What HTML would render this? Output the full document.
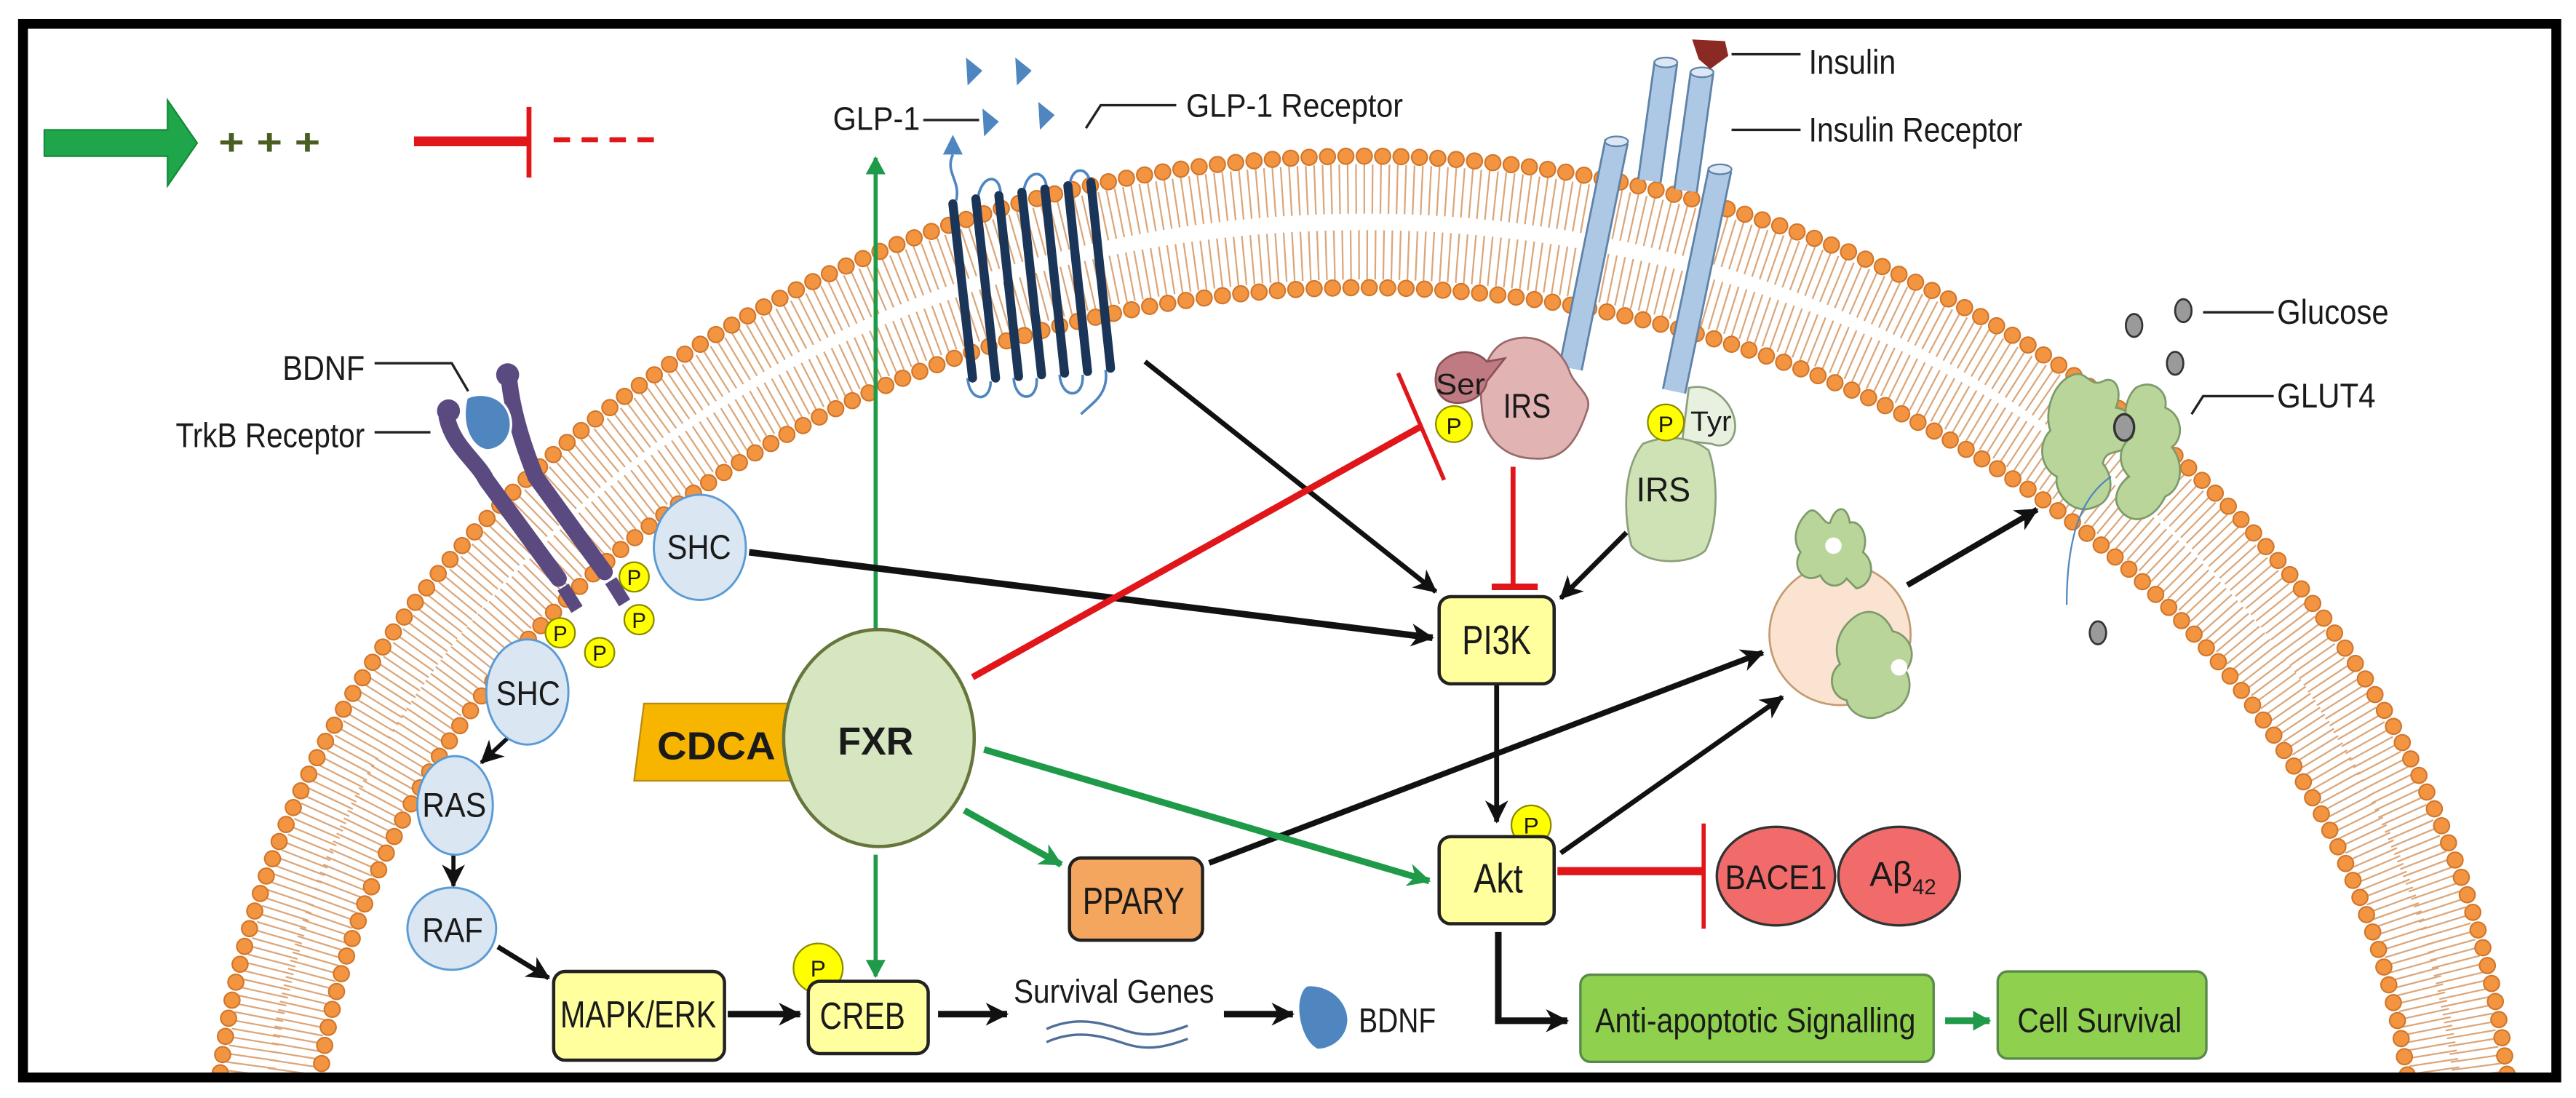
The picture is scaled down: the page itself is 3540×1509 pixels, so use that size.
<!DOCTYPE html>
<html><head><meta charset="utf-8"><style>
html,body{margin:0;padding:0;background:#fff;width:3540px;height:1509px;overflow:hidden;}
svg{display:block;}
text{font-family:"Liberation Sans Narrow","Liberation Sans",sans-serif;fill:#1a1a1a;}
</style></head><body>
<svg width="3540" height="1509" viewBox="0 0 1568 668" preserveAspectRatio="none" xmlns="http://www.w3.org/2000/svg">
<defs>
<clipPath id="fr"><rect x="17" y="17" width="1536" height="636"/></clipPath>
<marker id="ab" markerUnits="userSpaceOnUse" markerWidth="16" markerHeight="16" refX="13" refY="8" orient="auto"><path d="M0,1 L14,8 L0,15 L4,8 Z" fill="#111"/></marker>
<marker id="ag" markerUnits="userSpaceOnUse" markerWidth="16" markerHeight="16" refX="13" refY="8" orient="auto"><path d="M0,1 L14,8 L0,15 L4,8 Z" fill="#1e9a48"/></marker>
<marker id="ags" markerUnits="userSpaceOnUse" markerWidth="12" markerHeight="12" refX="10" refY="6" orient="auto"><path d="M0,0 L11,6 L0,12 Z" fill="#1e9a48"/></marker>
</defs>
<rect width="1568" height="668" fill="#fff"/>
<g clip-path="url(#fr)">
<!-- membrane tails -->
<ellipse cx="830" cy="720" rx="682" ry="605" fill="none" stroke="#dba67a" stroke-width="30" stroke-dasharray="1 4"/>
<ellipse cx="830" cy="720" rx="657" ry="565" fill="none" stroke="#dba67a" stroke-width="30" stroke-dasharray="1 4"/>
<!-- heads -->
<ellipse cx="830" cy="720" rx="700" ry="625" fill="none" stroke="#d0762c" stroke-width="10.5" stroke-dasharray="0 11.2" stroke-linecap="round"/>
<ellipse cx="830" cy="720" rx="700" ry="625" fill="none" stroke="#f39440" stroke-width="8.6" stroke-dasharray="0 11.2" stroke-linecap="round"/>
<ellipse cx="830" cy="720" rx="640" ry="545" fill="none" stroke="#d0762c" stroke-width="10.5" stroke-dasharray="0 11.2" stroke-linecap="round"/>
<ellipse cx="830" cy="720" rx="640" ry="545" fill="none" stroke="#f39440" stroke-width="8.6" stroke-dasharray="0 11.2" stroke-linecap="round"/>
</g>
<!-- frame -->
<rect x="14" y="14.5" width="1542" height="641" fill="none" stroke="#000" stroke-width="6"/>

<!-- legend -->
<path d="M27,79 L102,79 L102,61 L120,87 L102,113 L102,95 L27,95 Z" fill="#1fa64a" stroke="#148a38" stroke-width="1"/>
<text x="133" y="94" font-size="22" font-weight="bold" style="fill:#4a5d23" textLength="62" lengthAdjust="spacingAndGlyphs">+ + +</text>
<line x1="252" y1="86" x2="322" y2="86" stroke="#e0161b" stroke-width="6"/>
<line x1="322" y1="65" x2="322" y2="108" stroke="#e0161b" stroke-width="3"/>
<line x1="337" y1="85" x2="400" y2="85" stroke="#e0161b" stroke-width="3" stroke-dasharray="10 7"/>

<!-- GLP-1 -->
<text x="507" y="79" font-size="20" textLength="53" lengthAdjust="spacingAndGlyphs">GLP-1</text>
<line x1="562" y1="73" x2="596" y2="73" stroke="#222" stroke-width="1.5"/>
<g fill="#4f86c0">
<path d="M588,35 L598,43 L589,52 Z"/><path d="M618,35 L628,43 L619,52 Z"/>
<path d="M632,62 L642,70 L633,79 Z"/><path d="M598,66 L608,74 L599,83 Z"/>
<path d="M574,94 L580,82 L586,94 Z"/>
</g>
<text x="722" y="71" font-size="20" textLength="132" lengthAdjust="spacingAndGlyphs">GLP-1 Receptor</text>
<polyline points="716,64 670,64 661,78" fill="none" stroke="#222" stroke-width="1.5"/>
<g fill="none" stroke="#4f86c0" stroke-width="1.6">
<path d="M580,94 C575,105 585,110 582,122"/>
<path d="M595,122 C597,105 610,105 609,120"/>
<path d="M623,118 C624,102 638,102 637,117"/>
<path d="M651,115 C651,100 664,100 664,115"/>
<path d="M589,230 C590,245 603,245 603,232"/>
<path d="M617,230 C618,245 632,245 631,230"/>
<path d="M645,228 C646,243 660,243 659,228"/>
<path d="M673,225 C675,240 665,245 658,252"/>
</g>
<g stroke="#1b3558" stroke-width="5.5" stroke-linecap="round">
<line x1="580" y1="124" x2="592" y2="230"/>
<line x1="594" y1="121" x2="606" y2="230"/>
<line x1="608" y1="119" x2="620" y2="229"/>
<line x1="622" y1="117" x2="634" y2="228"/>
<line x1="636" y1="115" x2="648" y2="227"/>
<line x1="650" y1="113" x2="662" y2="226"/>
<line x1="664" y1="111" x2="676" y2="224"/>
</g>

<!-- Insulin receptor -->
<g stroke-linecap="butt">
<line x1="1014" y1="38" x2="1004" y2="110" stroke="#5f82a8" stroke-width="15"/>
<line x1="1014" y1="38" x2="1004" y2="110" stroke="#adc8e4" stroke-width="12.5"/>
<line x1="1036" y1="44" x2="1026" y2="116" stroke="#5f82a8" stroke-width="15"/>
<line x1="1036" y1="44" x2="1026" y2="116" stroke="#adc8e4" stroke-width="12.5"/>
<line x1="984" y1="86" x2="956" y2="224" stroke="#5f82a8" stroke-width="15"/>
<line x1="984" y1="86" x2="956" y2="224" stroke="#adc8e4" stroke-width="12.5"/>
<line x1="1047" y1="103" x2="1019" y2="238" stroke="#5f82a8" stroke-width="15"/>
<line x1="1047" y1="103" x2="1019" y2="238" stroke="#adc8e4" stroke-width="12.5"/>
</g>
<g fill="#dbe7f4" stroke="#5f82a8" stroke-width="1">
<ellipse cx="1014" cy="38" rx="7" ry="3"/><ellipse cx="1036" cy="44" rx="7" ry="3"/>
<ellipse cx="984" cy="86" rx="7" ry="3"/><ellipse cx="1047" cy="103" rx="7" ry="3"/>
</g>
<path d="M1030,24 L1050,25 L1052,34 L1041,42 L1034,36 Z" fill="#8b2a22"/>
<line x1="1054" y1="33" x2="1096" y2="33" stroke="#222" stroke-width="1.5"/>
<text x="1101" y="45" font-size="21" textLength="53" lengthAdjust="spacingAndGlyphs">Insulin</text>
<line x1="1054" y1="79" x2="1096" y2="79" stroke="#222" stroke-width="1.5"/>
<text x="1101" y="86" font-size="21" textLength="130" lengthAdjust="spacingAndGlyphs">Insulin Receptor</text>

<!-- IRS pink -->
<path d="M916,208 C935,200 950,212 955,225 C958,235 970,240 966,250 C960,268 952,280 935,279 C915,279 903,266 902,248 C900,232 904,214 916,208 Z" fill="#e2b3b3" stroke="#9a6b6b" stroke-width="1.2"/>
<path d="M876,222 C884,212 898,212 905,220 L916,218 L905,232 C904,240 895,246 885,245 C875,244 871,232 876,222 Z" fill="#c07b82" stroke="#8a5058" stroke-width="1.2"/>
<text x="874" y="240" font-size="18" textLength="30" lengthAdjust="spacingAndGlyphs">Ser</text>
<text x="915" y="254" font-size="21" textLength="29" lengthAdjust="spacingAndGlyphs">IRS</text>
<circle cx="885" cy="258" r="11" fill="#ffff00" stroke="#8a8a00" stroke-width="1"/>
<text x="885" y="264" font-size="14" text-anchor="middle">P</text>
<!-- IRS green -->
<path d="M1028,236 C1044,232 1058,248 1056,262 C1054,272 1046,272 1042,270 L1024,268 Z" fill="#e8f0e0" stroke="#8aa07a" stroke-width="1.2"/>
<path d="M1000,270 C1015,264 1030,266 1040,274 C1046,290 1046,320 1038,335 C1028,344 1002,344 993,332 C988,312 988,285 1000,270 Z" fill="#cfe2b6" stroke="#8aa07a" stroke-width="1.2"/>
<circle cx="1014" cy="257" r="11" fill="#ffff00" stroke="#8a8a00" stroke-width="1"/>
<text x="1014" y="263" font-size="14" text-anchor="middle">P</text>
<text x="1029" y="262" font-size="17" textLength="25" lengthAdjust="spacingAndGlyphs">Tyr</text>
<text x="996" y="305" font-size="21" textLength="33" lengthAdjust="spacingAndGlyphs">IRS</text>

<!-- Glucose / GLUT4 -->
<g fill="#9a9a9a" stroke="#333" stroke-width="1.2">
<ellipse cx="1299" cy="198" rx="5" ry="7"/><ellipse cx="1329" cy="189" rx="5" ry="7"/>
<ellipse cx="1324" cy="221" rx="5" ry="7"/><ellipse cx="1277" cy="385" rx="5" ry="7"/>
</g>
<line x1="1341" y1="190" x2="1384" y2="190" stroke="#222" stroke-width="1.5"/>
<text x="1386" y="197" font-size="21" textLength="68" lengthAdjust="spacingAndGlyphs">Glucose</text>
<polyline points="1384,241 1341,241 1334,252" fill="none" stroke="#222" stroke-width="1.5"/>
<text x="1386" y="248" font-size="21" textLength="60" lengthAdjust="spacingAndGlyphs">GLUT4</text>
<path d="M1262,228 C1270,225 1272,236 1280,232 C1288,228 1292,238 1288,248 C1300,250 1304,262 1296,270 C1290,278 1282,272 1280,282 C1288,292 1285,305 1276,308 C1262,315 1250,300 1252,290 C1242,285 1240,270 1248,262 C1244,250 1250,232 1262,228 Z" fill="#b9d59a" stroke="#7d9a6a" stroke-width="1.2"/>
<path d="M1300,236 C1310,230 1320,238 1318,248 C1328,252 1330,266 1322,272 C1330,282 1328,298 1318,302 C1312,315 1300,320 1292,312 C1284,304 1290,294 1296,290 C1288,282 1290,270 1298,266 C1292,258 1292,244 1300,236 Z" fill="#b9d59a" stroke="#7d9a6a" stroke-width="1.2"/>
<ellipse cx="1293" cy="260" rx="6" ry="8" fill="#9a9a9a" stroke="#333" stroke-width="1.5"/>
<path d="M1285,290 C1270,300 1258,320 1258,368" fill="none" stroke="#4f86c0" stroke-width="1"/>

<!-- vesicle -->
<circle cx="1120" cy="386" r="43" fill="#fbe3d2" stroke="#c49a70" stroke-width="1.2"/>
<path d="M1100,312 C1106,306 1110,320 1114,318 C1117,308 1124,306 1126,318 C1132,316 1138,326 1134,336 C1142,342 1140,356 1130,358 L1124,352 C1120,358 1112,358 1108,350 C1098,356 1090,345 1096,336 C1090,328 1094,318 1100,312 Z" fill="#b9d59a" stroke="#7d9a6a" stroke-width="1.2"/>
<circle cx="1116" cy="332" r="5" fill="#fff"/>
<path d="M1128,376 C1138,368 1148,374 1152,384 C1162,386 1168,398 1160,408 C1166,418 1160,432 1148,434 C1140,440 1126,436 1124,426 C1114,424 1112,410 1120,404 C1116,396 1118,384 1128,376 Z" fill="#b9d59a" stroke="#7d9a6a" stroke-width="1.2"/>
<circle cx="1156" cy="406" r="5" fill="#fff"/>

<!-- TrkB / BDNF -->
<g stroke="#5a4a80" stroke-width="10" stroke-linecap="round" fill="none">
<path d="M272,254 C276,272 290,280 296,292 L340,352"/>
<path d="M310,232 C312,250 318,270 326,290 L368,348"/>
</g>
<g fill="#5a4a80">
<circle cx="273" cy="250" r="7"/><circle cx="309" cy="228" r="7"/>
<rect x="343" y="356" width="8" height="16" transform="rotate(-32 347 364)"/>
<rect x="372" y="352" width="8" height="16" transform="rotate(-32 376 360)"/>
</g>
<path d="M284,242 C292,238 306,240 310,252 C314,264 306,274 296,274 C286,272 280,258 284,242 Z" fill="#4f86c0" stroke="#fff" stroke-width="1.5"/>
<text x="172" y="231" font-size="21" textLength="50" lengthAdjust="spacingAndGlyphs">BDNF</text>
<polyline points="228,221 275,221 285,238" fill="none" stroke="#222" stroke-width="1.5"/>
<text x="107" y="272" font-size="21" textLength="115" lengthAdjust="spacingAndGlyphs">TrkB Receptor</text>
<line x1="228" y1="263" x2="262" y2="263" stroke="#222" stroke-width="1.5"/>

<!-- connectors -->
<line x1="533" y1="386" x2="533" y2="96" stroke="#1e9a48" stroke-width="2.5" marker-end="url(#ags)"/>
<line x1="456" y1="336" x2="872" y2="388" stroke="#111" stroke-width="4" marker-end="url(#ab)"/>
<line x1="697" y1="220" x2="874" y2="360" stroke="#111" stroke-width="3" marker-end="url(#ab)"/>
<line x1="990" y1="324" x2="950" y2="364" stroke="#111" stroke-width="3" marker-end="url(#ab)"/>
<line x1="921" y1="284" x2="921" y2="356" stroke="#e0161b" stroke-width="3"/>
<line x1="908" y1="357" x2="936" y2="357" stroke="#e0161b" stroke-width="4"/>
<line x1="592" y1="412" x2="864" y2="260" stroke="#e0161b" stroke-width="4"/>
<line x1="851" y1="227" x2="879" y2="292" stroke="#e0161b" stroke-width="2.5"/>
<line x1="911" y1="417" x2="911" y2="500" stroke="#111" stroke-width="3" marker-end="url(#ab)"/>
<line x1="736" y1="525" x2="1073" y2="397" stroke="#111" stroke-width="3.5" marker-end="url(#ab)"/>
<line x1="950" y1="519" x2="1085" y2="424" stroke="#111" stroke-width="3" marker-end="url(#ab)"/>
<line x1="1161" y1="356" x2="1240" y2="310" stroke="#111" stroke-width="3.5" marker-end="url(#ab)"/>
<line x1="599" y1="456" x2="870" y2="536" stroke="#1e9a48" stroke-width="4" marker-end="url(#ag)"/>
<line x1="587" y1="493" x2="646" y2="526" stroke="#1e9a48" stroke-width="4" marker-end="url(#ag)"/>
<line x1="533" y1="520" x2="533" y2="594" stroke="#1e9a48" stroke-width="2.5" marker-end="url(#ags)"/>
<line x1="948" y1="530" x2="1037" y2="530" stroke="#e0161b" stroke-width="5"/>
<line x1="1037" y1="501" x2="1037" y2="565" stroke="#e0161b" stroke-width="2.5"/>
<polyline points="912,567 912,621 954,621" fill="none" stroke="#111" stroke-width="4" marker-end="url(#ab)"/>
<line x1="1184" y1="621" x2="1211" y2="621" stroke="#1e9a48" stroke-width="4" marker-end="url(#ags)"/>
<line x1="443" y1="617" x2="487" y2="617" stroke="#111" stroke-width="4" marker-end="url(#ab)"/>
<line x1="571" y1="617" x2="613" y2="617" stroke="#111" stroke-width="4" marker-end="url(#ab)"/>
<line x1="745" y1="617" x2="787" y2="617" stroke="#111" stroke-width="4" marker-end="url(#ab)"/>
<line x1="309" y1="449" x2="293" y2="464" stroke="#111" stroke-width="2.5" marker-end="url(#ab)"/>
<line x1="276" y1="520" x2="276" y2="539" stroke="#111" stroke-width="2.5" marker-end="url(#ab)"/>
<line x1="303" y1="576" x2="334" y2="595" stroke="#111" stroke-width="3" marker-end="url(#ab)"/>

<!-- left signalling -->
<g fill="#dae6f2" stroke="#5b9bd5" stroke-width="1.3">
<ellipse cx="426" cy="333" rx="28" ry="32"/>
<ellipse cx="321" cy="421" rx="25" ry="32"/>
<ellipse cx="277" cy="490" rx="23" ry="30"/>
<ellipse cx="275" cy="565" rx="27" ry="25"/>
</g>
<text x="406" y="340" font-size="21" textLength="39" lengthAdjust="spacingAndGlyphs">SHC</text>
<text x="302" y="429" font-size="21" textLength="39" lengthAdjust="spacingAndGlyphs">SHC</text>
<text x="257" y="497" font-size="21" textLength="39" lengthAdjust="spacingAndGlyphs">RAS</text>
<text x="257" y="573" font-size="21" textLength="37" lengthAdjust="spacingAndGlyphs">RAF</text>
<g fill="#ffff00" stroke="#8a8a00" stroke-width="1">
<circle cx="386" cy="351" r="9"/><circle cx="389" cy="377" r="9"/><circle cx="365" cy="397" r="9"/><circle cx="341" cy="385" r="9"/>
</g>
<g font-size="13" text-anchor="middle">
<text x="386" y="356">P</text><text x="389" y="382">P</text><text x="365" y="402">P</text><text x="341" y="390">P</text>
</g>

<!-- FXR / CDCA -->
<path d="M392,428 L484,428 L484,475 L386,475 Z" fill="#f7b500" stroke="#b88a10" stroke-width="1"/>
<text x="400" y="462" font-size="24" font-weight="bold" textLength="72" lengthAdjust="spacingAndGlyphs">CDCA</text>
<ellipse cx="535" cy="449" rx="58" ry="66" fill="#d5e6c0" stroke="#66753a" stroke-width="2"/>
<text x="510" y="459" font-size="24" font-weight="bold" textLength="46" lengthAdjust="spacingAndGlyphs">FXR</text>

<!-- boxes -->
<g stroke="#222" stroke-width="2">
<rect x="876" y="363" width="70" height="53" rx="7" fill="#ffff9e"/>
<rect x="337" y="591" width="104" height="54" rx="7" fill="#ffff9e"/>
<rect x="651" y="522" width="81" height="50" rx="7" fill="#f4a55e"/>
</g>
<circle cx="932" cy="502" r="12" fill="#ffff00" stroke="#8a8a00" stroke-width="1"/>
<text x="932" y="507" font-size="14" text-anchor="middle">P</text>
<rect x="876" y="509" width="70" height="53" rx="7" fill="#ffff9e" stroke="#222" stroke-width="2"/>
<circle cx="498" cy="589" r="15" fill="#ffff00" stroke="#8a8a00" stroke-width="1"/>
<text x="498" y="594" font-size="14" text-anchor="middle">P</text>
<rect x="492" y="597" width="73" height="44" rx="7" fill="#ffff9e" stroke="#222" stroke-width="2"/>
<text x="890" y="398" font-size="25" textLength="42" lengthAdjust="spacingAndGlyphs">PI3K</text>
<text x="897" y="543" font-size="25" textLength="30" lengthAdjust="spacingAndGlyphs">Akt</text>
<text x="341" y="625" font-size="23" textLength="95" lengthAdjust="spacingAndGlyphs">MAPK/ERK</text>
<text x="499" y="626" font-size="23" textLength="52" lengthAdjust="spacingAndGlyphs">CREB</text>
<text x="659" y="556" font-size="23" textLength="62" lengthAdjust="spacingAndGlyphs">PPARY</text>

<!-- survival genes -->
<text x="617" y="610" font-size="20" textLength="122" lengthAdjust="spacingAndGlyphs">Survival Genes</text>
<path d="M637,626 C655,618 670,622 685,627 C700,632 712,628 723,624" fill="none" stroke="#4f6f9a" stroke-width="1.5"/>
<path d="M637,634 C655,626 670,630 685,635 C700,640 712,636 723,632" fill="none" stroke="#4f6f9a" stroke-width="1.5"/>
<path d="M797,600 C812,600 821,612 820,622 C819,632 810,638 802,638 C794,634 790,620 791,610 C792,604 794,600 797,600 Z" fill="#4f86c0"/>
<text x="827" y="628" font-size="21" textLength="47" lengthAdjust="spacingAndGlyphs">BDNF</text>

<!-- BACE1 / Abeta -->
<ellipse cx="1081" cy="533" rx="36" ry="30" fill="#f26b6b" stroke="#333" stroke-width="1.5"/>
<ellipse cx="1156" cy="533" rx="37" ry="30" fill="#f26b6b" stroke="#333" stroke-width="1.5"/>
<text x="1050" y="541" font-size="21" textLength="62" lengthAdjust="spacingAndGlyphs">BACE1</text>
<text x="1138" y="539" font-size="21">Aβ<tspan font-size="13" dy="5">42</tspan></text>

<!-- green boxes -->
<rect x="962" y="593" width="215" height="53" rx="6" fill="#8fd14f" stroke="#5a8a4a" stroke-width="1.5"/>
<rect x="1216" y="591" width="127" height="53" rx="6" fill="#8fd14f" stroke="#5a8a4a" stroke-width="1.5"/>
<text x="971" y="628" font-size="21" textLength="195" lengthAdjust="spacingAndGlyphs">Anti-apoptotic Signalling</text>
<text x="1228" y="628" font-size="21" textLength="100" lengthAdjust="spacingAndGlyphs">Cell Survival</text>
</svg>
</body></html>
